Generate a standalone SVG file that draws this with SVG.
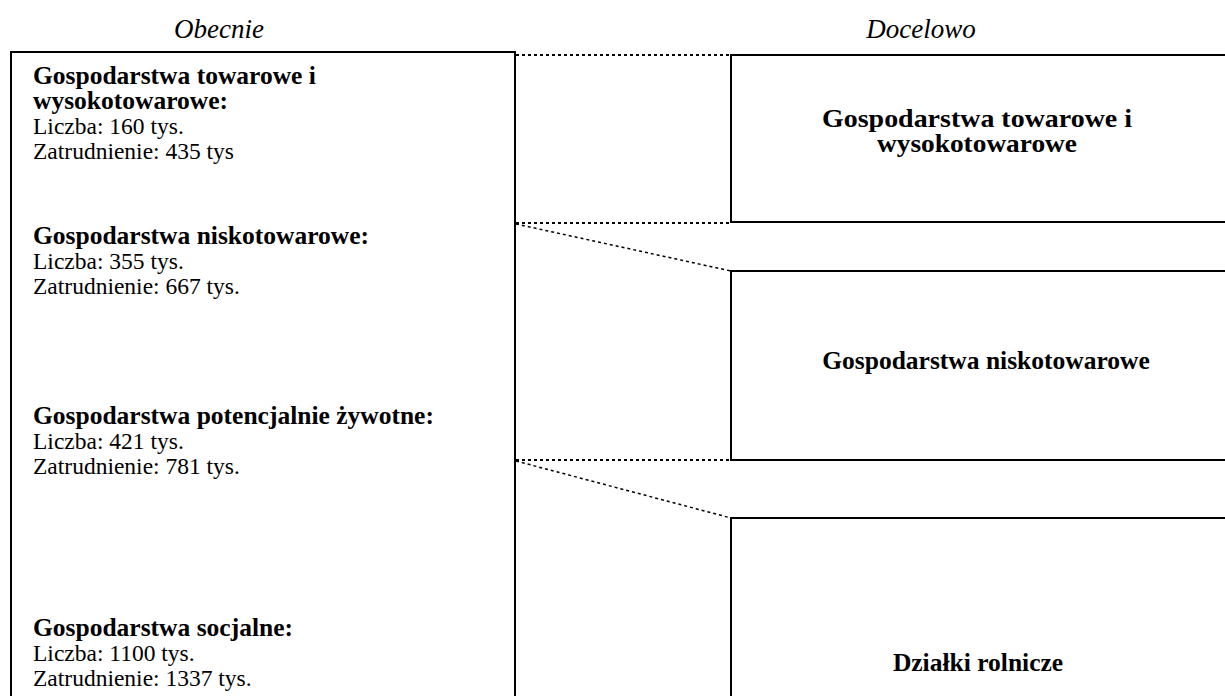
<svg xmlns="http://www.w3.org/2000/svg" width="1225" height="696" viewBox="0 0 1225 696">
<style>
.box{fill:#fff;stroke:#000;stroke-width:2}
.t{font-family:"Liberation Serif","Times New Roman",serif;font-size:23.5px;fill:#000}
.b{font-weight:bold;font-size:25.5px}
.h{font-style:italic;font-size:27px}
.c{text-anchor:middle}
.dh{stroke:#000;stroke-width:2;stroke-dasharray:3 3;fill:none}
.dd{stroke:#000;stroke-width:1.5;stroke-dasharray:3 3;fill:none}
</style>
<rect width="1225" height="696" fill="#fff"/>
<text class="t h c" x="219" y="38">Obecnie</text>
<text class="t h c" x="921" y="38" font-size="28">Docelowo</text>
<g id="connectors">
<line class="dh" x1="516" y1="55" x2="731" y2="55"/>
<line class="dh" x1="516" y1="223" x2="731" y2="223"/>
<line class="dd" x1="516" y1="224" x2="731" y2="271"/>
<line class="dh" x1="516" y1="460" x2="731" y2="460"/>
<line class="dd" x1="516" y1="461" x2="731" y2="518"/>
</g>
<g id="current">
<rect class="box" x="11" y="52" width="504" height="660"/>
<text class="t b" x="33" y="84">Gospodarstwa towarowe i</text>
<text class="t b" x="33" y="109">wysokotowarowe:</text>
<text class="t" x="33" y="134">Liczba: 160 tys.</text>
<text class="t" x="33" y="159">Zatrudnienie: 435 tys</text>
<text class="t b" x="33" y="244">Gospodarstwa niskotowarowe:</text>
<text class="t" x="33" y="269">Liczba: 355 tys.</text>
<text class="t" x="33" y="294">Zatrudnienie: 667 tys.</text>
<text class="t b" x="33" y="424">Gospodarstwa potencjalnie żywotne:</text>
<text class="t" x="33" y="449">Liczba: 421 tys.</text>
<text class="t" x="33" y="474">Zatrudnienie: 781 tys.</text>
<text class="t b" x="33" y="636">Gospodarstwa socjalne:</text>
<text class="t" x="33" y="661">Liczba: 1100 tys.</text>
<text class="t" x="33" y="686">Zatrudnienie: 1337 tys.</text>
</g>
<g id="target1">
<rect class="box" x="731" y="55" width="520" height="167"/>
<text class="t b c" x="977" y="127" textLength="310" lengthAdjust="spacingAndGlyphs">Gospodarstwa towarowe i</text>
<text class="t b c" x="977" y="152" textLength="200" lengthAdjust="spacingAndGlyphs">wysokotowarowe</text>
</g>
<g id="target2">
<rect class="box" x="731" y="271" width="520" height="189"/>
<text class="t b c" x="986" y="369">Gospodarstwa niskotowarowe</text>
</g>
<g id="target3">
<rect class="box" x="731" y="518" width="520" height="200"/>
<text class="t b c" x="978" y="671">Działki rolnicze</text>
</g>
</svg>
